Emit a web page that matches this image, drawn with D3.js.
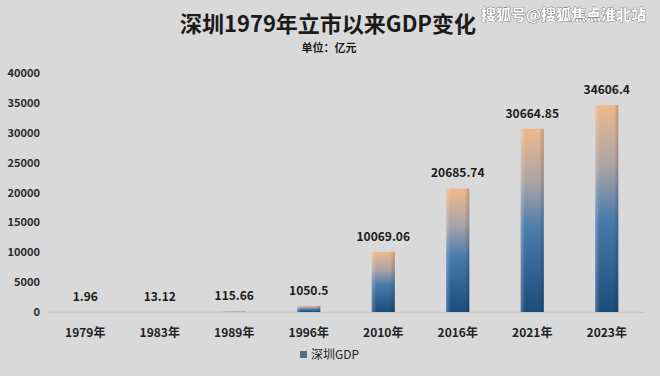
<!DOCTYPE html>
<html>
<head>
<meta charset="utf-8">
<script src="https://cdn.jsdelivr.net/npm/d3@7"></script>
<style>
  body { margin: 0; background: #d9d9d9; }
  text { font-family: "Noto Sans CJK SC", "Noto Sans", sans-serif; }
</style>
</head>
<body>
<div id="chart"></div>
<script>
// chart data
var years = ['1979年', '1983年', '1989年', '1996年', '2010年', '2016年', '2021年', '2023年'];
var gdp = [1.96, 13.12, 115.66, 1050.5, 10069.06, 20685.74, 30664.85, 34606.4];
var gdpLabels = ['1.96', '13.12', '115.66', '1050.5', '10069.06', '20685.74', '30664.85', '34606.4'];
var yTicks = [0, 5000, 10000, 15000, 20000, 25000, 30000, 35000, 40000];

var width = 660, height = 376;
var margin = { top: 73, right: 16, bottom: 64, left: 48 };

var svg = d3.select('#chart')
    .append('svg')
    .attr('width', width)
    .attr('height', height);

svg.append('rect')
    .attr('width', width).attr('height', height)
    .attr('fill', '#d9d9d9');

var defs = svg.append('defs');
var grad = defs.append('linearGradient')
    .attr('id', 'barGrad')
    .attr('x1', 0).attr('y1', 0).attr('x2', 0).attr('y2', 1);
grad.append('stop').attr('offset', '0%').attr('stop-color', '#eeb98c');
grad.append('stop').attr('offset', '30%').attr('stop-color', '#a9a3a6');
grad.append('stop').attr('offset', '55%').attr('stop-color', '#4a7bac');
grad.append('stop').attr('offset', '100%').attr('stop-color', '#1c4c7c');

var shade = defs.append('linearGradient')
    .attr('id', 'barShade')
    .attr('x1', 0).attr('y1', 0).attr('x2', 1).attr('y2', 0);
shade.append('stop').attr('offset', '0%').attr('stop-color', '#ffffff').attr('stop-opacity', 0.25);
shade.append('stop').attr('offset', '20%').attr('stop-color', '#ffffff').attr('stop-opacity', 0);
shade.append('stop').attr('offset', '80%').attr('stop-color', '#000000').attr('stop-opacity', 0);
shade.append('stop').attr('offset', '100%').attr('stop-color', '#000000').attr('stop-opacity', 0.18);

var x = d3.scaleBand()
    .domain(years)
    .range([margin.left, width - margin.right])
    .paddingInner(0.69)
    .paddingOuter(0.345);

var y = d3.scaleLinear()
    .domain([0, 40000])
    .range([height - margin.bottom, margin.top]);

// title + subtitle
svg.append('text')
    .attr('x', 328).attr('y', 32)
    .attr('text-anchor', 'middle')
    .attr('font-size', 22).attr('font-weight', 'bold')
    .attr('fill', '#1a1a1a')
    .text('深圳1979年立市以来GDP变化');

svg.append('text')
    .attr('x', 329).attr('y', 52)
    .attr('text-anchor', 'middle')
    .attr('font-size', 11).attr('font-weight', 'bold')
    .attr('fill', '#1a1a1a')
    .text('单位：亿元');

// watermark
svg.append('text')
    .attr('x', 646).attr('y', 20)
    .attr('text-anchor', 'end')
    .attr('font-size', 15).attr('font-weight', 'bold')
    .attr('fill', '#ffffff')
    .attr('stroke', '#444').attr('stroke-width', 0.6)
    .attr('paint-order', 'stroke')
    .text('搜狐号@搜狐焦点淮北站');

// y axis labels (no axis line)
var yAxis = svg.append('g')
    .attr('transform', 'translate(' + (margin.left - 8) + ',0)')
    .call(d3.axisLeft(y).tickValues(yTicks).tickFormat(d3.format('d')).tickSize(0).tickPadding(0));
yAxis.select('.domain').remove();
yAxis.selectAll('text')
    .attr('font-size', 11).attr('font-weight', 'bold')
    .attr('fill', '#2a2a2a')
    .style('font-family', '"Noto Sans CJK SC", "Noto Sans", sans-serif');

// x axis
var xAxis = svg.append('g')
    .attr('transform', 'translate(0,' + y(0) + ')')
    .call(d3.axisBottom(x).tickSize(0).tickPadding(16));
xAxis.select('.domain')
    .attr('stroke', '#c4c4c4').attr('stroke-width', 1.5);
xAxis.selectAll('text')
    .attr('font-size', 12).attr('font-weight', 'bold')
    .attr('fill', '#222')
    .style('font-family', '"Noto Sans CJK SC", "Noto Sans", sans-serif');

// bars
var bars = svg.append('g');
bars.selectAll('rect.bar')
    .data(gdp)
    .enter()
    .append('rect')
    .attr('class', 'bar')
    .attr('x', function (d, i) { return x(years[i]); })
    .attr('y', function (d) { return y(d); })
    .attr('width', x.bandwidth())
    .attr('height', function (d) { return y(0) - y(d); })
    .attr('fill', 'url(#barGrad)');

bars.selectAll('rect.shade')
    .data(gdp)
    .enter()
    .append('rect')
    .attr('class', 'shade')
    .attr('x', function (d, i) { return x(years[i]); })
    .attr('y', function (d) { return y(d); })
    .attr('width', x.bandwidth())
    .attr('height', function (d) { return y(0) - y(d); })
    .attr('fill', 'url(#barShade)');

// value labels
svg.selectAll('text.val')
    .data(gdp)
    .enter()
    .append('text')
    .attr('class', 'val')
    .attr('x', function (d, i) { return x(years[i]) + x.bandwidth() / 2; })
    .attr('y', function (d) { return y(d) - 11; })
    .attr('text-anchor', 'middle')
    .attr('font-size', 12).attr('font-weight', 'bold')
    .attr('fill', '#1a1a1a')
    .text(function (d, i) { return gdpLabels[i]; });

// legend
var legend = svg.append('g').attr('transform', 'translate(300,355)');
legend.append('rect')
    .attr('x', 0).attr('y', -4)
    .attr('width', 7).attr('height', 7)
    .attr('fill', '#4f6f8f');
legend.append('text')
    .attr('x', 11).attr('y', 4)
    .attr('font-size', 12)
    .attr('fill', '#222')
    .text('深圳GDP');
</script>
</body>
</html>
